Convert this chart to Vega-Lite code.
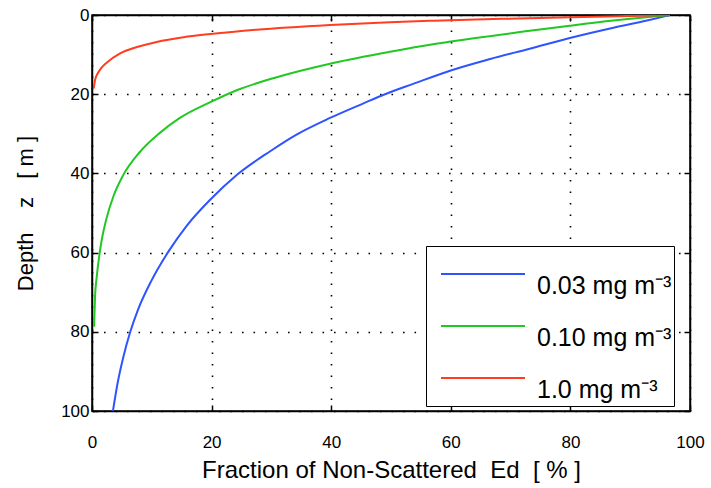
{
  "$schema": "https://vega.github.io/schema/vega-lite/v6.json",
  "width": 598,
  "height": 396,
  "autosize": {"type": "none"},
  "padding": {"left": 92, "top": 15, "right": 21, "bottom": 77},
  "background": "white",
  "datasets": {
    "curves": [
      {"c": "0.03 mg m⁻³", "x": 96.6, "z": 0},
      {"c": "0.03 mg m⁻³", "x": 92.8, "z": 1.4},
      {"c": "0.03 mg m⁻³", "x": 87.2, "z": 3.2},
      {"c": "0.03 mg m⁻³", "x": 79.9, "z": 5.8},
      {"c": "0.03 mg m⁻³", "x": 73.2, "z": 8.5},
      {"c": "0.03 mg m⁻³", "x": 66.6, "z": 11.1},
      {"c": "0.03 mg m⁻³", "x": 60.0, "z": 14.0},
      {"c": "0.03 mg m⁻³", "x": 53.7, "z": 17.4},
      {"c": "0.03 mg m⁻³", "x": 49.0, "z": 20.0},
      {"c": "0.03 mg m⁻³", "x": 45.4, "z": 22.3},
      {"c": "0.03 mg m⁻³", "x": 39.8, "z": 26.0},
      {"c": "0.03 mg m⁻³", "x": 34.2, "z": 30.2},
      {"c": "0.03 mg m⁻³", "x": 29.8, "z": 34.4},
      {"c": "0.03 mg m⁻³", "x": 24.2, "z": 40.4},
      {"c": "0.03 mg m⁻³", "x": 19.8, "z": 46.6},
      {"c": "0.03 mg m⁻³", "x": 15.8, "z": 53.3},
      {"c": "0.03 mg m⁻³", "x": 12.8, "z": 59.7},
      {"c": "0.03 mg m⁻³", "x": 9.9, "z": 67.2},
      {"c": "0.03 mg m⁻³", "x": 7.7, "z": 74.4},
      {"c": "0.03 mg m⁻³", "x": 6.4, "z": 80.0},
      {"c": "0.03 mg m⁻³", "x": 5.2, "z": 86.6},
      {"c": "0.03 mg m⁻³", "x": 4.3, "z": 92.8},
      {"c": "0.03 mg m⁻³", "x": 3.5, "z": 100.0},
      {"c": "0.10 mg m⁻³", "x": 96.6, "z": 0},
      {"c": "0.10 mg m⁻³", "x": 90.5, "z": 0.9},
      {"c": "0.10 mg m⁻³", "x": 87.2, "z": 1.4},
      {"c": "0.10 mg m⁻³", "x": 79.9, "z": 2.7},
      {"c": "0.10 mg m⁻³", "x": 73.2, "z": 4.0},
      {"c": "0.10 mg m⁻³", "x": 60.0, "z": 6.7},
      {"c": "0.10 mg m⁻³", "x": 53.7, "z": 8.2},
      {"c": "0.10 mg m⁻³", "x": 49.8, "z": 9.3},
      {"c": "0.10 mg m⁻³", "x": 39.8, "z": 12.3},
      {"c": "0.10 mg m⁻³", "x": 30.9, "z": 15.7},
      {"c": "0.10 mg m⁻³", "x": 24.2, "z": 19.0},
      {"c": "0.10 mg m⁻³", "x": 19.8, "z": 22.0},
      {"c": "0.10 mg m⁻³", "x": 14.7, "z": 26.0},
      {"c": "0.10 mg m⁻³", "x": 11.4, "z": 29.7},
      {"c": "0.10 mg m⁻³", "x": 8.0, "z": 34.6},
      {"c": "0.10 mg m⁻³", "x": 5.2, "z": 40.5},
      {"c": "0.10 mg m⁻³", "x": 3.6, "z": 45.7},
      {"c": "0.10 mg m⁻³", "x": 2.4, "z": 51.5},
      {"c": "0.10 mg m⁻³", "x": 1.6, "z": 57.0},
      {"c": "0.10 mg m⁻³", "x": 1.2, "z": 61.0},
      {"c": "0.10 mg m⁻³", "x": 0.8, "z": 66.0},
      {"c": "0.10 mg m⁻³", "x": 0.5, "z": 71.5},
      {"c": "0.10 mg m⁻³", "x": 0.35, "z": 78.7},
      {"c": "1.0 mg m⁻³", "x": 96.6, "z": 0},
      {"c": "1.0 mg m⁻³", "x": 88.0, "z": 0.3},
      {"c": "1.0 mg m⁻³", "x": 80.0, "z": 0.55},
      {"c": "1.0 mg m⁻³", "x": 69.0, "z": 0.95},
      {"c": "1.0 mg m⁻³", "x": 57.1, "z": 1.45},
      {"c": "1.0 mg m⁻³", "x": 49.8, "z": 1.8},
      {"c": "1.0 mg m⁻³", "x": 39.8, "z": 2.5},
      {"c": "1.0 mg m⁻³", "x": 27.5, "z": 3.7},
      {"c": "1.0 mg m⁻³", "x": 19.8, "z": 4.8},
      {"c": "1.0 mg m⁻³", "x": 15.3, "z": 5.6},
      {"c": "1.0 mg m⁻³", "x": 10.8, "z": 6.8},
      {"c": "1.0 mg m⁻³", "x": 7.5, "z": 8.1},
      {"c": "1.0 mg m⁻³", "x": 4.7, "z": 9.7},
      {"c": "1.0 mg m⁻³", "x": 2.5, "z": 12.0},
      {"c": "1.0 mg m⁻³", "x": 1.5, "z": 13.5},
      {"c": "1.0 mg m⁻³", "x": 0.9, "z": 14.9},
      {"c": "1.0 mg m⁻³", "x": 0.5, "z": 16.5},
      {"c": "1.0 mg m⁻³", "x": 0.3, "z": 18.5}
    ]
  },
  "data": {"name": "curves"},
  "layer": [
    {
      "mark": {"type": "line", "strokeWidth": 2, "clip": true, "interpolate": "monotone"},
      "encoding": {
        "x": {
          "field": "x", "type": "quantitative",
          "scale": {"domain": [0, 100], "nice": false, "zero": false},
          "axis": {
            "orient": "bottom",
            "values": [0, 20, 40, 60, 80, 100],
            "tickSize": -6,
            "labelPadding": 29,
            "labelFontSize": 17,
            "labelFlush": false,
            "labelOverlap": false,
            "title": "Fraction of Non-Scattered\u00a0\u00a0Ed\u00a0\u00a0[ % ]",
            "titleFontSize": 24,
            "titlePadding": 8,
            "grid": true
          }
        },
        "y": {
          "field": "z", "type": "quantitative",
          "scale": {"domain": [0, 100], "nice": false, "zero": false, "reverse": true},
          "axis": {
            "orient": "left",
            "values": [0, 20, 40, 60, 80, 100],
            "tickSize": -6,
            "labelPadding": 9,
            "labelFontSize": 17,
            "labelFlush": false,
            "labelOverlap": false,
            "title": "Depth\u00a0\u00a0\u00a0\u00a0z\u00a0\u00a0\u00a0[ m ]",
            "titleFontSize": 22,
            "titlePadding": 23,
            "grid": true
          }
        },
        "color": {
          "field": "c", "type": "nominal",
          "scale": {
            "domain": ["0.03 mg m⁻³", "0.10 mg m⁻³", "1.0 mg m⁻³"],
            "range": ["#2f54ff", "#22c822", "#ff3d1f"]
          },
          "legend": {
            "orient": "none",
            "legendX": 334,
            "legendY": 231,
            "title": null,
            "symbolType": "stroke",
            "symbolSize": 7056,
            "symbolStrokeWidth": 2,
            "symbolOffset": 12,
            "clipHeight": 52,
            "rowPadding": 0,
            "padding": 2,
            "labelFontSize": 25,
            "labelOffset": 11,
            "labelBaseline": "top",
            "labelLimit": 300,
            "labelColor": "black",
            "strokeColor": "black",
            "fillColor": "white",
            "direction": "vertical"
          }
        },
        "order": {"field": "z", "type": "quantitative"}
      }
    },
    {
      "mark": {"type": "line", "opacity": 0},
      "encoding": {
        "x": {
          "field": "x", "type": "quantitative",
          "axis": {"orient": "top", "values": [0, 20, 40, 60, 80, 100], "tickSize": -6, "labels": false, "title": null, "grid": false}
        },
        "y": {
          "field": "z", "type": "quantitative",
          "axis": {"orient": "right", "values": [0, 20, 40, 60, 80, 100], "tickSize": -6, "labels": false, "title": null, "grid": false}
        },
        "detail": {"field": "c", "type": "nominal"},
        "order": {"field": "z", "type": "quantitative"}
      }
    }
  ],
  "resolve": {"axis": {"x": "independent", "y": "independent"}},
  "config": {
    "font": "Liberation Sans",
    "view": {"stroke": "black", "strokeWidth": 1.5},
    "axis": {
      "domainColor": "black",
      "domainWidth": 1.5,
      "tickColor": "black",
      "tickWidth": 1.5,
      "labelColor": "black",
      "titleColor": "black",
      "titleFontWeight": "normal",
      "gridColor": "black",
      "gridOpacity": 1,
      "gridWidth": 1.6,
      "gridDash": [1.6, 9.9]
    }
  }
}
